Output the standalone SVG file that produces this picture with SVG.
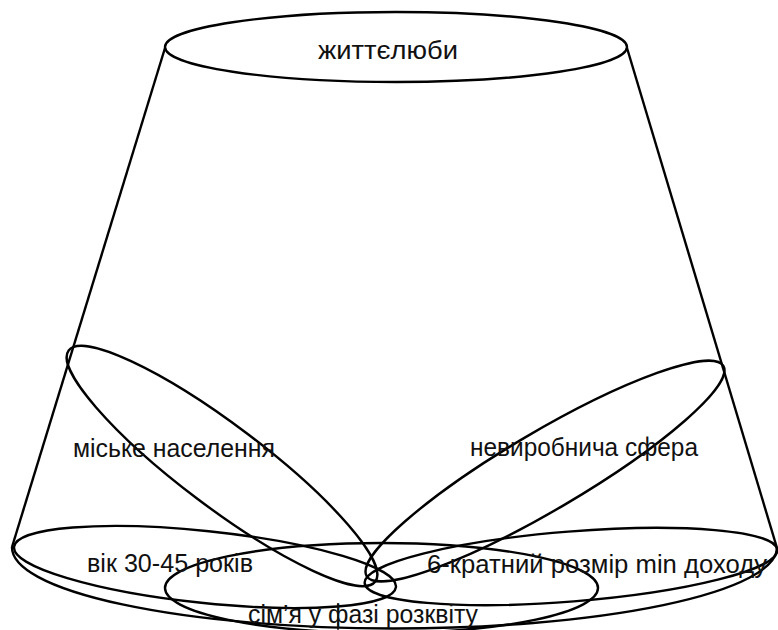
<svg xmlns="http://www.w3.org/2000/svg" width="778" height="630" viewBox="0 0 778 630">
<style>
.ln{fill:none;stroke:#000;stroke-width:2.4}
.thin{fill:none;stroke:#000;stroke-width:1.3}
.lbl{font-family:"Liberation Sans","Noto Sans",sans-serif;font-size:26px;fill:#111}
</style>
<rect width="778" height="630" fill="#fff"/>
<g id="frustum">
<line class="ln" x1="165" y1="48" x2="12" y2="547"/>
<line class="ln" x1="627" y1="48" x2="777" y2="548"/>
<path class="ln" d="M12,547 A382.5,81 0 0 0 777,548"/>
</g>
<g id="node-zhyttieliuby">
<ellipse class="ln" cx="396" cy="47" rx="231" ry="35"/>
<text class="lbl" x="318" y="59" textLength="140" lengthAdjust="spacingAndGlyphs">життєлюби</text>
</g>
<g id="node-simia">
<ellipse class="ln" cx="381.5" cy="588" rx="216.5" ry="45"/>
<line class="thin" x1="338" y1="603" x2="338" y2="630"/>
</g>
<g id="node-vik">
<ellipse class="ln" cx="205" cy="567" rx="192" ry="36" transform="rotate(6 205 567)"/>
</g>
<g id="node-6krat">
<ellipse class="ln" cx="571" cy="566.5" rx="207" ry="35" transform="rotate(-4.6 571 566.5)"/>
</g>
<g id="node-miske">
<ellipse class="ln" cx="222" cy="466" rx="192" ry="41" transform="rotate(37 222 466)"/>
</g>
<g id="node-nevyrobnycha">
<ellipse class="ln" cx="545" cy="471" rx="207" ry="39" transform="rotate(-30.5 545 471)"/>
</g>
<g id="labels">
<text class="lbl" x="73" y="457" textLength="202" lengthAdjust="spacingAndGlyphs">міське населення</text>
<text class="lbl" x="470" y="456" textLength="228" lengthAdjust="spacingAndGlyphs">невиробнича сфера</text>
<text class="lbl" x="87" y="572" textLength="166" lengthAdjust="spacingAndGlyphs">вік 30-45 років</text>
<text class="lbl" x="427" y="573" textLength="340" lengthAdjust="spacingAndGlyphs">6-кратний розмір min доходу</text>
<text class="lbl" x="248" y="623" textLength="230" lengthAdjust="spacingAndGlyphs">сім’я у фазі розквіту</text>
</g>
</svg>
